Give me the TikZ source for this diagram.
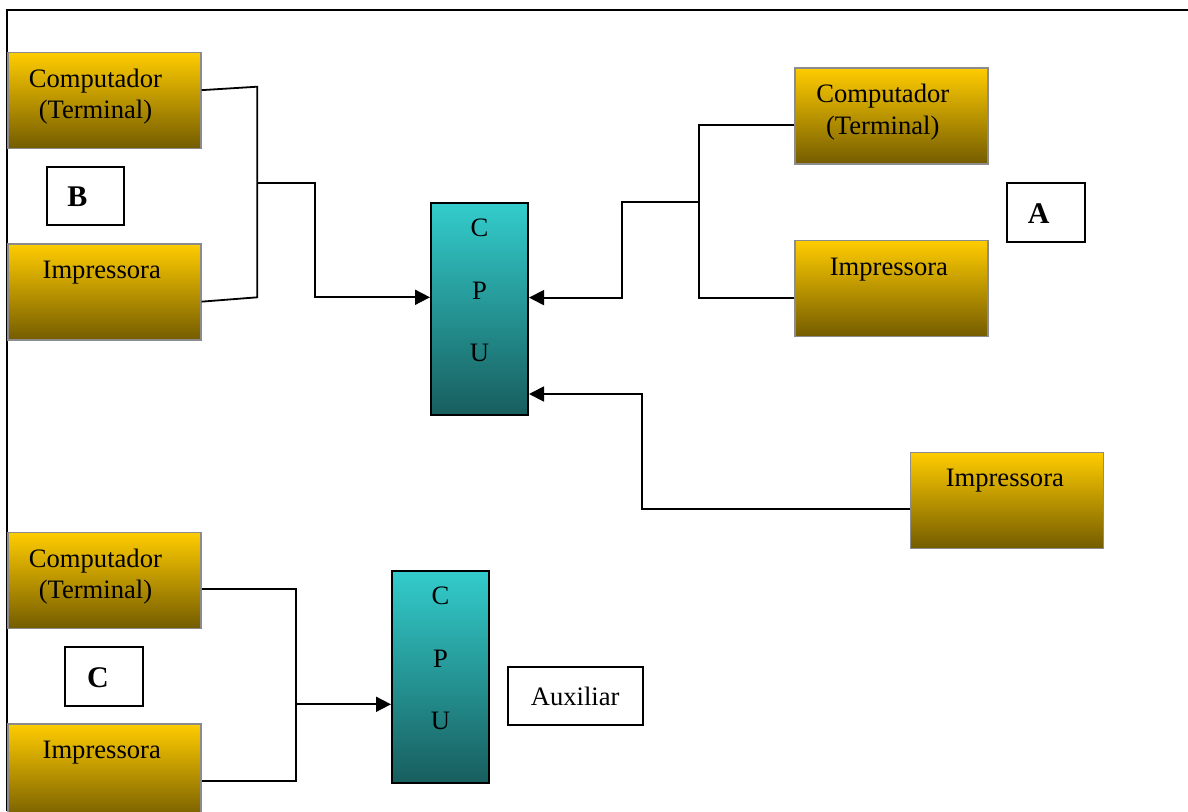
\documentclass[tikz,border=0pt]{standalone}
\usepackage{fontspec}
\setmainfont{Liberation Serif}
\usetikzlibrary{arrows.meta}
\definecolor{goldtop}{RGB}{255,204,0}
\definecolor{goldbot}{RGB}{116,92,0}
\definecolor{tealtop}{RGB}{51,204,204}
\definecolor{tealbot}{RGB}{24,94,94}
\definecolor{rim}{RGB}{140,140,140}

\begin{document}
\begin{tikzpicture}[x=1pt,y=-1pt,
  device/.style={draw=rim,line width=1.3pt,top color=goldtop,bottom color=goldbot,
    minimum width=193pt,minimum height=96pt,anchor=north west,inner sep=0pt},
  cpu/.style={draw=black,line width=2pt,top color=tealtop,bottom color=tealbot,
    minimum width=97pt,minimum height=212pt,anchor=north west,inner sep=0pt},
  tagbox/.style={draw=black,line width=2pt,fill=white,minimum width=77.5pt,
    minimum height=58.3pt,anchor=north west,inner sep=0pt},
  txt/.style={inner sep=0pt,align=center,font=\fontsize{26.6}{31.6}\selectfont,anchor=north},
  letters/.style={inner sep=0pt,align=center,font=\fontsize{26.6}{62.5}\selectfont,anchor=north},
  tagtext/.style={inner sep=0pt,font=\fontsize{30}{36}\selectfont\bfseries},
  wire/.style={line width=1.8pt},
  feed/.style={wire,-{Triangle[length=15pt,width=15pt]}}
]
\useasboundingbox (0,0) rectangle (1188,811);
\begin{scope}
\clip (0,0) rectangle (1188,811);

% outer frame (top and left edges)
\draw[line width=2.3pt] (7.3,811) -- (7.3,10) -- (1188,10);

% group B
\node[device] (cl) at (7.3,51.7) {};
\node[txt] (clt) at ([xshift=-9pt,yshift=-17pt]cl.north) {Computador\\(Terminal)};
\node[device] (il) at (7.3,243.3) {};
\node[txt] (ilt) at ([xshift=-2.7pt,yshift=-17.4pt]il.north) {Impressora};
\node[tagbox] (tb) at (45.7,165.7) {};
\node[tagtext] (lb) at ([xshift=-8pt,yshift=-1pt]tb.center) {B};

% group A
\node[device] (cr) at (794.3,67.3) {};
\node[txt] (crt) at ([xshift=-8.7pt,yshift=-17pt]cr.north) {Computador\\(Terminal)};
\node[device] (ir) at (794.3,240) {};
\node[txt] (irt) at ([xshift=-2.5pt,yshift=-17.4pt]ir.north) {Impressora};
\node[tagbox] (ta) at (1006,182.3) {};
\node[tagtext] (la) at ([xshift=-7pt,yshift=-1pt]ta.center) {A};

% single printer
\node[device] (ix) at (910,451.7) {};
\node[txt] (ixt) at ([xshift=-2.3pt,yshift=-17.4pt]ix.north) {Impressora};

% main CPU
\node[cpu] (cpua) at (430,201.7) {};
\node[letters] (cpuat) at ([yshift=-17.3pt]cpua.north) {C\\P\\U};

% group C
\node[device] (cc) at (7.3,531.7) {};
\node[txt] (cct) at ([xshift=-9pt,yshift=-17pt]cc.north) {Computador\\(Terminal)};
\node[device] (ic) at (7.3,723.3) {};
\node[txt] (ict) at ([xshift=-2.7pt,yshift=-17.4pt]ic.north) {Impressora};
\node[tagbox] (tc) at (64.3,646.3) {};
\node[tagtext] (lc) at ([xshift=-6pt,yshift=-1.4pt]tc.center) {C};

% auxiliary CPU
\node[cpu] (cpub) at (391,569.5) {};
\node[letters] (cpubt) at ([yshift=-17.3pt]cpub.north) {C\\P\\U};
\node[tagbox,minimum width=135pt,minimum height=58pt,font=\fontsize{26.6}{31.6}\selectfont]
  (aux) at (506.7,666) {Auxiliar};

% wiring of group B
\coordinate (b1) at (257.3,86.7);
\coordinate (b2) at (257.3,297.3);
\coordinate (jb) at (257.3,182.7);
\coordinate (kb) at (315,297.3);
\draw[wire] ([yshift=10.2pt]cl.east) -- (b1) -- (b2) -- ([yshift=-9.7pt]il.east);
\draw[feed] (jb) -| (kb) -- (cpua.west |- kb);

% wiring of group A
\coordinate (a1) at (699,125);
\coordinate (a2) at (699,297.6);
\coordinate (ja) at (699,201.7);
\coordinate (ka) at (622,297.6);
\draw[wire] (cr.west |- a1) -- (a1) -- (a2) -- (ir.west |- a2);
\draw[feed] (ja) -| (ka) -- (cpua.east |- ka);

% single printer to main CPU
\coordinate (x1) at (641.7,509.3);
\coordinate (kx) at (641.7,394);
\draw[feed] (ix.west |- x1) -- (x1) -- (kx) -- (cpua.east |- kx);

% wiring of group C
\coordinate (c1) at (295.7,589.3);
\coordinate (c2) at (295.7,781);
\coordinate (jc) at (295.7,704.3);
\draw[wire] (cc.east |- c1) -- (c1) -- (c2) -- (ic.east |- c2);
\draw[feed] (jc) -- (cpub.west |- jc);
\end{scope}
\end{tikzpicture}
\end{document}
